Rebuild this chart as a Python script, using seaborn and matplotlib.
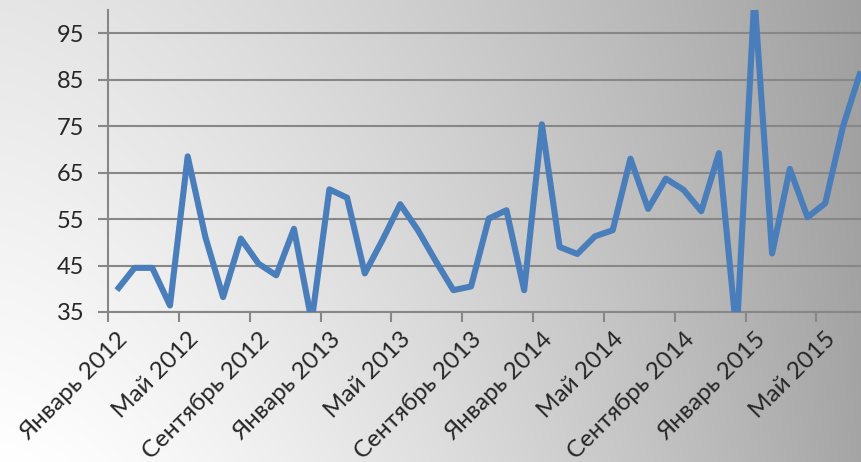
import numpy as np
import pandas as pd
import matplotlib
matplotlib.use("Agg")
import matplotlib.pyplot as plt
import seaborn as sns

# Monthly series, January 2012 - July 2015
months_ru = ["Январь", "Февраль", "Март", "Апрель", "Май", "Июнь",
             "Июль", "Август", "Сентябрь", "Октябрь", "Ноябрь", "Декабрь"]
years = [2012, 2013, 2014, 2015]
values = [39.7, 44.5, 44.5, 36.4, 68.5, 51.1, 38.2, 50.8, 45.4, 42.9, 52.9, 33.0,
          61.4, 59.6, 43.3, 50.5, 58.2, 52.6, 46.0, 39.7, 40.5, 55.1, 56.9, 39.7,
          75.4, 49.0, 47.5, 51.3, 52.6, 68.0, 57.2, 63.7, 61.3, 56.7, 69.2, 30.0,
          103.0, 47.6, 65.8, 55.4, 58.4, 74.9, 86.8]
y_ticks = [35, 45, 55, 65, 75, 85, 95]

labels = [f"{months_ru[i % 12]} {years[i // 12]}" for i in range(len(values))]
df = pd.DataFrame({"idx": np.arange(len(values)), "value": values, "label": labels})

sns.set_theme(style="white")
plt.rcParams["font.family"] = ["Lato", "DejaVu Sans"]

W, H = 862, 462
fig = plt.figure(figsize=(W / 100, H / 100), dpi=100)

# Background gradient: white on the left, grey on the right
bg = fig.add_axes([0, 0, 1, 1], zorder=0)
xs = np.linspace(0, 1, 431)
ys = np.linspace(0, 1, 231)
X, Y = np.meshgrid(xs, ys)  # Y=0 top, Y=1 bottom
left_col = 0.90 + (1.0 - 0.90) * Y
right_col = 0.625 + (0.645 - 0.625) * Y
G = left_col - (left_col - right_col) * X ** 1.5
bg.imshow(np.dstack([G, G, G]), aspect="auto", extent=[0, 1, 0, 1], origin="upper")
bg.set_axis_off()

left = 108 / W
right = 869.5 / W
top = 1 - 10 / H
bottom = 1 - 312 / H
ax = fig.add_axes([left, bottom, right - left, top - bottom], zorder=1)
ax.set_facecolor("none")

sns.lineplot(data=df, x="idx", y="value", ax=ax, color="#4A7EBB",
             linewidth=4.4, solid_joinstyle="round", solid_capstyle="butt", zorder=3)

ax.set_xlim(-0.5, 42.5)
ax.set_ylim(35, 100)
ax.set_yticks(y_ticks)
ax.set_yticklabels([str(v) for v in y_ticks], fontsize=17)
ax.yaxis.grid(True, color="#878787", linewidth=1.5)
ax.set_axisbelow(True)

# Category labels every 4 months, tick marks between categories
label_pos = list(range(0, len(values), 4))
ax.set_xticks(label_pos)
ax.set_xticklabels([labels[i] for i in label_pos], rotation=45, ha="right",
                   rotation_mode="anchor", fontsize=17.5)
ax.tick_params(axis="x", which="major", length=0, pad=12)
ax.set_xticks([p - 0.5 for p in label_pos], minor=True)
ax.tick_params(axis="x", which="minor", length=7, width=1.5, color="#878787",
               direction="out", bottom=True)
ax.tick_params(axis="y", length=7, width=1.5, color="#878787", direction="out",
               left=True, pad=10)
ax.set_xlabel("")
ax.set_ylabel("")

for s in ["top", "right"]:
    ax.spines[s].set_visible(False)
for s in ["left", "bottom"]:
    ax.spines[s].set_color("#878787")
    ax.spines[s].set_linewidth(1.5)

fig.savefig("out.png", dpi=100)
